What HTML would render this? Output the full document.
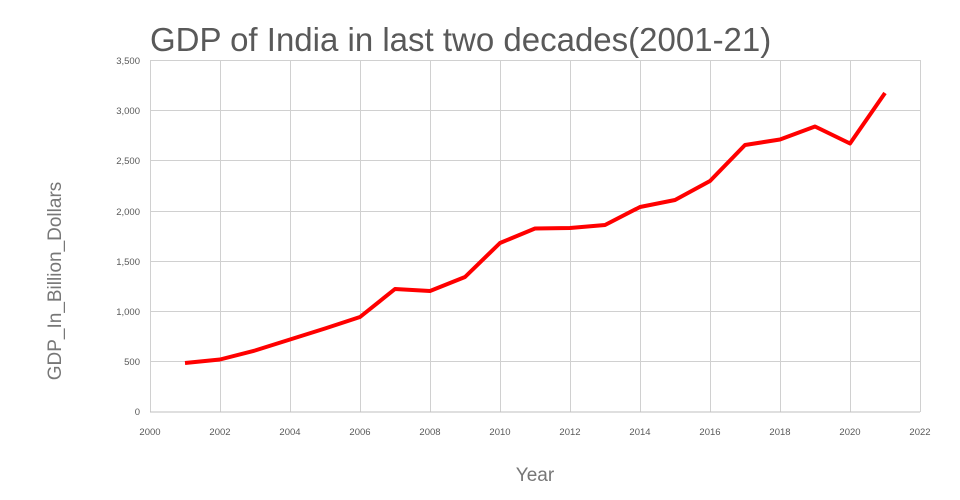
<!DOCTYPE html>
<html><head><style>body{margin:0;background:#fff}svg{display:block}</style></head><body>
<svg width="960" height="500" xmlns="http://www.w3.org/2000/svg" font-family="Liberation Sans, DejaVu Sans, sans-serif">
<rect width="960" height="500" fill="#fff"/>
<text x="150" y="51" font-size="33" fill="#595959">GDP of India in last two decades(2001-21)</text>
<g stroke="#d0d0d0" stroke-width="1">
<line x1="150" y1="60.5" x2="920" y2="60.5"/><line x1="150" y1="110.5" x2="920" y2="110.5"/>
<line x1="150" y1="160.5" x2="920" y2="160.5"/><line x1="150" y1="211.5" x2="920" y2="211.5"/>
<line x1="150" y1="261.5" x2="920" y2="261.5"/><line x1="150" y1="311.5" x2="920" y2="311.5"/>
<line x1="150" y1="361.5" x2="920" y2="361.5"/>
<line x1="150.5" y1="60" x2="150.5" y2="412"/><line x1="220.5" y1="60" x2="220.5" y2="412"/>
<line x1="290.5" y1="60" x2="290.5" y2="412"/><line x1="360.5" y1="60" x2="360.5" y2="412"/>
<line x1="430.5" y1="60" x2="430.5" y2="412"/><line x1="500.5" y1="60" x2="500.5" y2="412"/>
<line x1="570.5" y1="60" x2="570.5" y2="412"/><line x1="640.5" y1="60" x2="640.5" y2="412"/>
<line x1="710.5" y1="60" x2="710.5" y2="412"/><line x1="780.5" y1="60" x2="780.5" y2="412"/>
<line x1="850.5" y1="60" x2="850.5" y2="412"/><line x1="920.5" y1="60" x2="920.5" y2="412"/>
</g>
<line x1="150" y1="412" x2="920" y2="412" stroke="#bfbfbf"/>
<g font-size="9.5" fill="#595959" text-anchor="end">
<text x="140" y="64">3,500</text><text x="140" y="114">3,000</text><text x="140" y="164">2,500</text>
<text x="140" y="215">2,000</text><text x="140" y="265">1,500</text><text x="140" y="315">1,000</text>
<text x="140" y="365">500</text><text x="140" y="415">0</text>
</g>
<g font-size="9.5" fill="#595959" text-anchor="middle">
<text x="150" y="435">2000</text><text x="220" y="435">2002</text><text x="290" y="435">2004</text>
<text x="360" y="435">2006</text><text x="430" y="435">2008</text><text x="500" y="435">2010</text>
<text x="570" y="435">2012</text><text x="640" y="435">2014</text><text x="710" y="435">2016</text>
<text x="780" y="435">2018</text><text x="850" y="435">2020</text><text x="920" y="435">2022</text>
</g>
<text x="535" y="481" font-size="19" fill="#777" text-anchor="middle">Year</text>
<text transform="translate(61,281) rotate(-90)" font-size="19" fill="#777" text-anchor="middle">GDP_In_Billion_Dollars</text>
<polyline fill="none" stroke="#ff0000" stroke-width="4" stroke-linejoin="round"
points="185,363 220,359.5 255,350.5 290,339.5 325,328.5 360,317 395,289 430,291 465,277 500,243 535,228.5 570,228 605,225 640,207 675,200 710,181 745,145 780,139.5 815,126.5 850,143.5 885,93"/>
</svg>
</body></html>
